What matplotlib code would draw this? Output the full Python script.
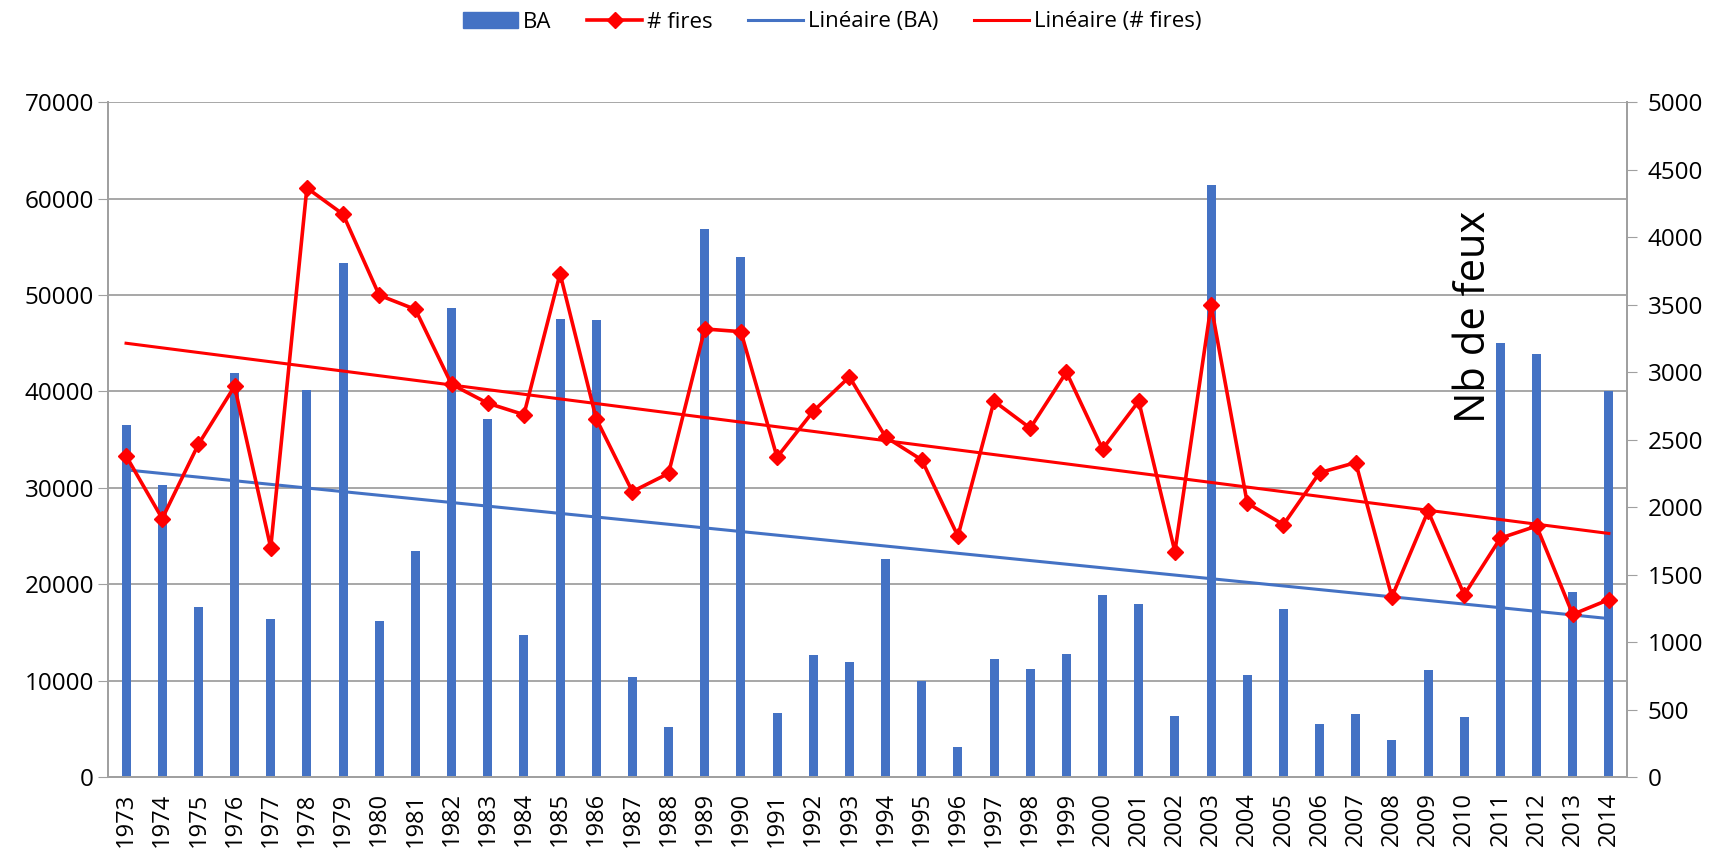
import numpy as np
import matplotlib
matplotlib.use("Agg")
import matplotlib.pyplot as plt
from matplotlib.lines import Line2D
from matplotlib.patches import Patch

plt.rcParams['font.family'] = ['Open Sans', 'DejaVu Sans']

years = list(range(1973, 2015))
ba = [36500, 30300, 17600, 41900, 16400, 40100, 53300, 16200, 23400, 48700,
      37100, 14700, 47500, 47400, 10400, 5200, 56900, 53900, 6600, 12700,
      11900, 22600, 10000, 3100, 12200, 11200, 12800, 18900, 17900, 6300,
      61400, 10600, 17400, 5500, 6500, 3800, 11100, 6200, 45000, 43900,
      19200, 40000]
fires = [2380, 1915, 2465, 2895, 1700, 4365, 4170, 3570, 3465, 2910,
         2770, 2685, 3730, 2655, 2115, 2250, 3320, 3300, 2370, 2710,
         2965, 2520, 2350, 1785, 2785, 2585, 3000, 2430, 2785, 1670,
         3495, 2030, 1870, 2255, 2330, 1335, 1970, 1350, 1770, 1860,
         1205, 1315]

blue = '#4472C4'
red = '#FF0000'
grid_c = '#A0A0A0'

fig = plt.figure(figsize=(17.11, 8.52), dpi=100)
ax = fig.add_axes([0.0631, 0.088, 0.8878, 0.792])
ax2 = ax.twinx()

x = np.arange(len(years))
ax.bar(x, ba, width=0.25, color=blue, zorder=2)
cb = np.polyfit(x, ba, 1)
ax.plot(x, np.polyval(cb, x), color=blue, lw=2.2, zorder=3)

ax2.plot(x, fires, color=red, lw=2.6, marker='D', markersize=8.5, zorder=4)
cf = np.polyfit(x, fires, 1)
ax2.plot(x, np.polyval(cf, x), color=red, lw=2.2, zorder=3)

ax.set_xlim(-0.5, len(years) - 0.5)
ax.set_ylim(0, 70000)
ax2.set_ylim(0, 5000)
ax.set_yticks(np.arange(0, 70001, 10000))
ax2.set_yticks(np.arange(0, 5001, 500))
ax.set_xticks(x)
ax.set_xticklabels([str(y) for y in years], rotation=90, fontsize=17)
ax.tick_params(axis='x', length=0, pad=11)
ax.tick_params(axis='y', labelsize=17.5, length=7, color=grid_c, pad=3)
ax2.tick_params(axis='y', labelsize=17.5, length=7, color=grid_c, pad=8)
ax.yaxis.grid(True, color=grid_c, lw=1.3, zorder=0)
ax.set_axisbelow(True)

for a in (ax, ax2):
    a.spines['top'].set_visible(False)
    for s in ('left', 'right', 'bottom'):
        a.spines[s].set_color(grid_c)
        a.spines[s].set_linewidth(1.3)

ax2.text(1474 / 1711, 1 - 317 / 852, 'Nb de feux', transform=fig.transFigure,
         rotation=90, ha='center', va='center', fontsize=30)

handles = [Patch(color=blue),
           Line2D([], [], color=red, lw=2.6, marker='D', markersize=8.5),
           Line2D([], [], color=blue, lw=2.2),
           Line2D([], [], color=red, lw=2.2)]
labels = ['BA', '# fires', 'Linéaire (BA)', 'Linéaire (# fires)']
fig.legend(handles, labels, loc='center', bbox_to_anchor=(832 / 1711, 1 - 22 / 852),
           ncol=4, frameon=False, fontsize=16, handlelength=2.5, columnspacing=1.6,
           handletextpad=0.2)

fig.savefig('out.png', dpi=100)
